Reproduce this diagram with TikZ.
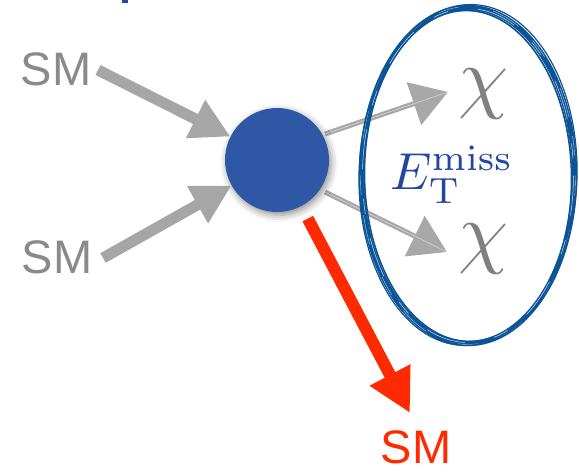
\documentclass[tikz,border=0pt]{standalone}
\usepackage{graphicx}
\usepackage[no-math]{fontspec}
\setmainfont{Liberation Sans}
\usetikzlibrary{arrows.meta,shadows.blur}
\definecolor{smgray}{RGB}{138,138,138}
\definecolor{chigray}{RGB}{128,128,128}
\definecolor{arrgray}{RGB}{166,166,166}
\definecolor{sketchgray}{RGB}{168,168,168}
\definecolor{blobblue}{RGB}{46,88,165}
\definecolor{ringblue}{RGB}{12,84,150}
\definecolor{etblue}{RGB}{35,70,160}
\definecolor{smred}{RGB}{255,42,0}
\begin{document}
\begin{tikzpicture}[x=1pt,y=-1pt,
  smlabel/.style={inner sep=0pt, font=\fontsize{47}{47}\selectfont},
  chilabel/.style={inner sep=0pt, text=chigray},
  inarrow/.style={draw=arrgray, line width=11pt, -{Triangle[length=39pt,width=40pt]}},
  outarrow/.style={draw=sketchgray, line width=5pt, -{Triangle[length=36pt,width=44pt]}},
  redarrow/.style={draw=smred, line width=12pt, -{Triangle[length=43pt,width=43pt]}},
  ring/.style={draw=ringblue, line width=5.4pt}
]
\useasboundingbox (0,0) rectangle (579,472);
\fill[etblue] (122,0) rectangle (128,2.5);

% labels
\node[smlabel, text=smgray] (sm1) at (56,69) {SM};
\node[smlabel, text=smgray] (sm2) at (57,257) {SM};
\node[smlabel, text=smred] (sm3) at (416,447) {SM};
\node[chilabel] (chi1) at (484,94) {\scalebox{8}{$\chi$}};
\node[chilabel] (chi2) at (484,249) {\scalebox{8}{$\chi$}};

% coordinates for connector ends
\coordinate (a1s) at (98,70);
\coordinate (a2s) at (103,258);
\coordinate (c1s) at (325,134);
\coordinate (c2s) at (325,192);
\coordinate (c1t) at (448,92);
\coordinate (c2t) at (447,252);
\coordinate (rt) at (410,413);

% sketchy outgoing arrows (behind blob)
\draw[outarrow] (c1s) -- (c1t);
\draw[outarrow] (c2s) -- (c2t);
\draw[draw=white, line width=0.5pt, opacity=0.6] (c1s) -- (c1t);
\draw[draw=white, line width=0.5pt, opacity=0.6] (c2s) -- (c2t);

% ring
\draw[ring] (468,175.5) ellipse [x radius=106.5, y radius=168];
\draw[draw=ringblue, line width=1.6pt, rotate around={1:(468,175.5)}] (468,176) ellipse [x radius=103.5, y radius=165.5];
\draw[draw=white, line width=0.5pt, opacity=0.8, dash pattern=on 40pt off 25pt on 15pt off 30pt] (468,175.5) ellipse [x radius=105.5, y radius=167];
\draw[draw=white, line width=0.4pt, opacity=0.7, dash pattern=on 20pt off 35pt on 30pt off 20pt] (468,175.5) ellipse [x radius=107.5, y radius=169];
\draw[draw=ringblue, line width=1.2pt, rotate around={-1.5:(468,175.5)}] (468,175) ellipse [x radius=109, y radius=170.5];

% E_T^miss
\node[inner sep=0pt, text=etblue] (met) at (452,174.5) {\scalebox{5.2}{$E_{\mathrm{T}}^{\mathrm{miss}}$}};

% blob
\node[circle, fill=blobblue, minimum size=104pt, inner sep=0pt,
  blur shadow={shadow xshift=2pt, shadow yshift=-3pt, shadow blur radius=7pt, shadow opacity=45}] (blob) at (277,160) {};

% incoming arrows
\draw[inarrow] (a1s) -- (blob);
\draw[inarrow] (a2s) -- (blob);

% red outgoing arrow
\draw[redarrow, shorten <=14pt] (blob) -- (rt);
\end{tikzpicture}
\end{document}
